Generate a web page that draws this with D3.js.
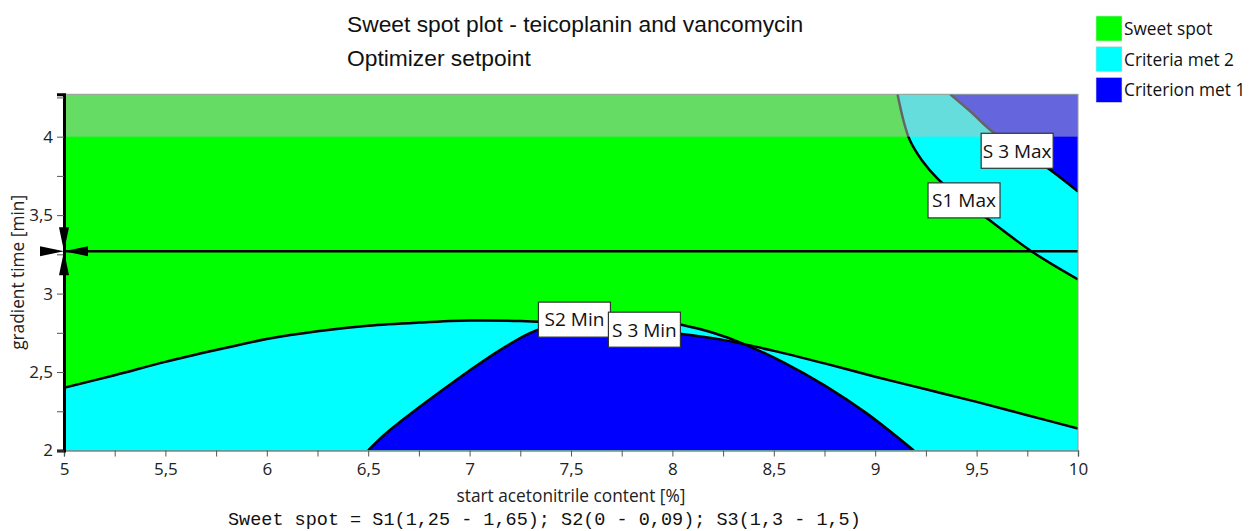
<!DOCTYPE html>
<html>
<head>
<meta charset="utf-8">
<script src="https://cdn.jsdelivr.net/npm/d3@7"></script>
<style>
  html, body { margin: 0; padding: 0; background: #fff; }
  svg { display: block; }
</style>
</head>
<body>
<svg id="chart" width="1249" height="531"></svg>
<script>
// ---------------- DATA ----------------
const titleLines = ["Sweet spot plot - teicoplanin and vancomycin", "Optimizer setpoint"];
const xLabel = "start acetonitrile content [%]";
const yLabel = "gradient time [min]";
const footer = "Sweet spot = S1(1,25 - 1,65); S2(0 - 0,09); S3(1,3 - 1,5)";

const xDomain = [5, 10];
const yDomain = [2, 4.27];
const xTickValues = [5, 5.5, 6, 6.5, 7, 7.5, 8, 8.5, 9, 9.5, 10];
const xMinorTicks = [5.25, 5.75, 6.25, 6.75, 7.25, 7.75, 8.25, 8.75, 9.25, 9.75];
const yTickValues = [2, 2.5, 3, 3.5, 4];
const yMinorTicks = [2.25, 2.75, 3.25, 3.75, 4.25];

const legendNames = ["Sweet spot", "Criteria met 2", "Criterion met 1"];
const legendColors = ["#00ff00", "#00ffff", "#0000ff"];

// boundary curves [start acetonitrile, gradient time]
const s2MinCurve = [[5, 2.40], [5.25, 2.48], [5.5, 2.565], [5.75, 2.64], [6, 2.71], [6.25, 2.76],
  [6.5, 2.795], [6.75, 2.815], [7, 2.828], [7.25, 2.825], [7.5, 2.81], [7.75, 2.785], [8, 2.75],
  [8.25, 2.705], [8.5, 2.635], [8.75, 2.555], [9, 2.47], [9.25, 2.39], [9.5, 2.31], [9.75, 2.225], [10, 2.14]];
const s3MinCurve = [[6.5, 2.0], [6.58, 2.10], [6.7, 2.225], [6.85, 2.37], [7.0, 2.51], [7.15, 2.64],
  [7.3, 2.75], [7.45, 2.815], [7.6, 2.845], [7.75, 2.85], [7.9, 2.835], [8.05, 2.80], [8.2, 2.75],
  [8.35, 2.68], [8.55, 2.56], [8.75, 2.415], [8.96, 2.235], [9.19, 2.0]];
const s1MaxCurve = [[9.11, 4.27], [9.14, 4.10], [9.17, 3.98], [9.23, 3.85], [9.31, 3.73], [9.43, 3.60],
  [9.556, 3.475], [9.77, 3.27], [10, 3.09]];
const s3MaxCurve = [[9.37, 4.27], [9.47, 4.16], [9.58, 4.03], [9.72, 3.91], [9.85, 3.80], [10, 3.65]];

const setpoint = [5, 3.27];
const shadedBandFrom = 4;   // band above this gradient time is greyed

const curveLabels = [
  { text: "S1 Max", x: 9.438, y: 3.594 },
  { text: "S 3 Max", x: 9.70, y: 3.91 },
  { text: "S2 Min", x: 7.517, y: 2.834 },
  { text: "S 3 Min", x: 7.862, y: 2.77 }
];

// ---------------- LAYOUT ----------------
const plot = { left: 64, right: 1078, top: 94.3, bottom: 450.5 };
const svg = d3.select("#chart");
const x = d3.scaleLinear().domain(xDomain).range([plot.left, plot.right]);
const y = d3.scaleLinear().domain(yDomain).range([plot.bottom, plot.top]);
const fmt = v => String(v).replace(".", ",");

const uiFont = "'Open Sans', 'Noto Sans', sans-serif";

svg.append("defs").append("clipPath").attr("id", "plotClip")
  .append("rect").attr("x", plot.left).attr("y", plot.top)
  .attr("width", plot.right - plot.left).attr("height", plot.bottom - plot.top);

const curve = d3.curveCatmullRom.alpha(0.5);
const line = d3.line().x(d => x(d[0])).y(d => y(d[1])).curve(curve);
const areaBelow = d3.area().x(d => x(d[0])).y1(d => y(d[1])).y0(y(yDomain[0])).curve(curve);

const g = svg.append("g").attr("clip-path", "url(#plotClip)");

// sweet spot background
g.append("rect").attr("x", x(xDomain[0])).attr("y", y(yDomain[1]))
  .attr("width", x(xDomain[1]) - x(xDomain[0])).attr("height", y(yDomain[0]) - y(yDomain[1]))
  .attr("fill", legendColors[0]);

// clip for area under S2 min
svg.select("defs").append("clipPath").attr("id", "underS2")
  .append("path").attr("d", areaBelow(s2MinCurve));

// one criterion failed (cyan)
g.append("path").attr("d", areaBelow(s2MinCurve)).attr("fill", legendColors[1]);
g.append("path").attr("d", areaBelow(s3MinCurve)).attr("fill", legendColors[1]);
const rightCorner = `L${x(xDomain[1])},${y(yDomain[1])}Z`;
g.append("path").attr("d", line(s1MaxCurve) + rightCorner).attr("fill", legendColors[1]);

// two criteria failed (blue)
g.append("g").attr("clip-path", "url(#underS2)")
  .append("path").attr("d", areaBelow(s3MinCurve)).attr("fill", legendColors[2]);
g.append("path").attr("d", line(s3MaxCurve) + rightCorner).attr("fill", legendColors[2]);

// boundary lines
[s2MinCurve, s3MinCurve, s1MaxCurve, s3MaxCurve].forEach(c => {
  g.append("path").attr("d", line(c)).attr("fill", "none")
    .attr("stroke", "#000").attr("stroke-width", 2.5);
});

// greyed band
g.append("rect").attr("x", x(xDomain[0])).attr("y", y(yDomain[1]))
  .attr("width", x(xDomain[1]) - x(xDomain[0])).attr("height", y(shadedBandFrom) - y(yDomain[1]))
  .attr("fill", "rgba(191,191,191,0.53)");

// setpoint line
g.append("line").attr("x1", x(xDomain[0])).attr("x2", x(xDomain[1]))
  .attr("y1", y(setpoint[1])).attr("y2", y(setpoint[1]))
  .attr("stroke", "#000").attr("stroke-width", 2.5);

// frame
svg.append("rect").attr("x", plot.left).attr("y", plot.top)
  .attr("width", plot.right - plot.left).attr("height", plot.bottom - plot.top)
  .attr("fill", "none").attr("stroke", "#9a9a9a").attr("stroke-width", 1);

// axes
const tickFont = 17;
const xAxis = d3.axisBottom(x).tickValues(xTickValues.concat(xMinorTicks)).tickSize(6)
  .tickFormat(v => xTickValues.includes(v) ? fmt(v) : "");
const xg = svg.append("g").attr("transform", `translate(0,${plot.bottom})`).call(xAxis);
xg.select(".domain").attr("stroke", "#5a9a9a").attr("stroke-width", 1.5);
xg.selectAll(".tick line").attr("stroke", "#555");
xg.selectAll(".tick text").attr("font-family", uiFont).attr("font-size", tickFont)
  .attr("fill", "#222").attr("y", 9).attr("dy", "0.9em");

const yAxis = d3.axisLeft(y).tickValues(yTickValues.concat(yMinorTicks)).tickSize(7)
  .tickFormat(v => yTickValues.includes(v) ? fmt(v) : "");
const yg = svg.append("g").attr("transform", `translate(${plot.left},0)`).call(yAxis);
yg.select(".domain").attr("stroke", "#000").attr("stroke-width", 3);
yg.selectAll(".tick line").attr("stroke", "#555");
yg.selectAll(".tick text").attr("font-family", uiFont).attr("font-size", tickFont)
  .attr("fill", "#222").attr("x", -11);

// setpoint marker (four arrowheads pointing at the setpoint)
const sx = x(setpoint[0]), sy = y(setpoint[1]);
const L = 24, W = 5;
const markers = [
  `M${sx},${sy} L${sx - W},${sy - L} L${sx + W},${sy - L}Z`,
  `M${sx},${sy} L${sx - W},${sy + L} L${sx + W},${sy + L}Z`,
  `M${sx},${sy} L${sx - L},${sy - W} L${sx - L},${sy + W}Z`,
  `M${sx},${sy} L${sx + L},${sy - W} L${sx + L},${sy + W}Z`
];
svg.append("g").selectAll("path").data(markers).join("path")
  .attr("d", d => d).attr("fill", "#000");

// curve labels
const lg = svg.append("g");
curveLabels.forEach(l => {
  const gg = lg.append("g").attr("transform", `translate(${x(l.x)},${y(l.y)})`);
  gg.append("rect").attr("x", -36).attr("y", -17.5).attr("width", 72).attr("height", 35)
    .attr("fill", "#fff").attr("stroke", "#333").attr("stroke-width", 1.2);
  gg.append("text").text(l.text).attr("font-family", uiFont).attr("font-size", 19)
    .attr("fill", "#111").attr("text-anchor", "middle").attr("dy", "0.36em");
});

// title
svg.append("g").selectAll("text").data(titleLines).join("text")
  .attr("x", 347).attr("y", (d, i) => 32 + i * 34)
  .attr("font-family", "'Liberation Sans', Arial, sans-serif").attr("font-size", 22.8)
  .attr("fill", "#111").text(d => d);

// legend
const leg = svg.append("g").attr("transform", "translate(1096,16)");
legendNames.forEach((n, i) => {
  leg.append("rect").attr("x", 0).attr("y", i * 30.7).attr("width", 26).attr("height", 25)
    .attr("fill", legendColors[i]).attr("stroke", "#ddd").attr("stroke-width", 0.6);
  leg.append("text").attr("x", 28).attr("y", i * 30.7 + 19)
    .attr("font-family", uiFont).attr("font-size", 17.3).attr("fill", "#111").text(n);
});

// axis titles
svg.append("text").attr("x", (plot.left + plot.right) / 2).attr("y", 502)
  .attr("text-anchor", "middle").attr("font-family", uiFont).attr("font-size", 17.3)
  .attr("fill", "#222").text(xLabel);
svg.append("text").attr("transform", `translate(24,${(plot.top + plot.bottom) / 2}) rotate(-90)`)
  .attr("text-anchor", "middle").attr("font-family", uiFont).attr("font-size", 17.3)
  .attr("fill", "#222").text(yLabel);

// footer
svg.append("text").attr("x", 228).attr("y", 524.5)
  .attr("font-family", "'Liberation Mono', 'DejaVu Sans Mono', monospace").attr("font-size", 18.5)
  .attr("fill", "#111").text(footer);
</script>
</body>
</html>
